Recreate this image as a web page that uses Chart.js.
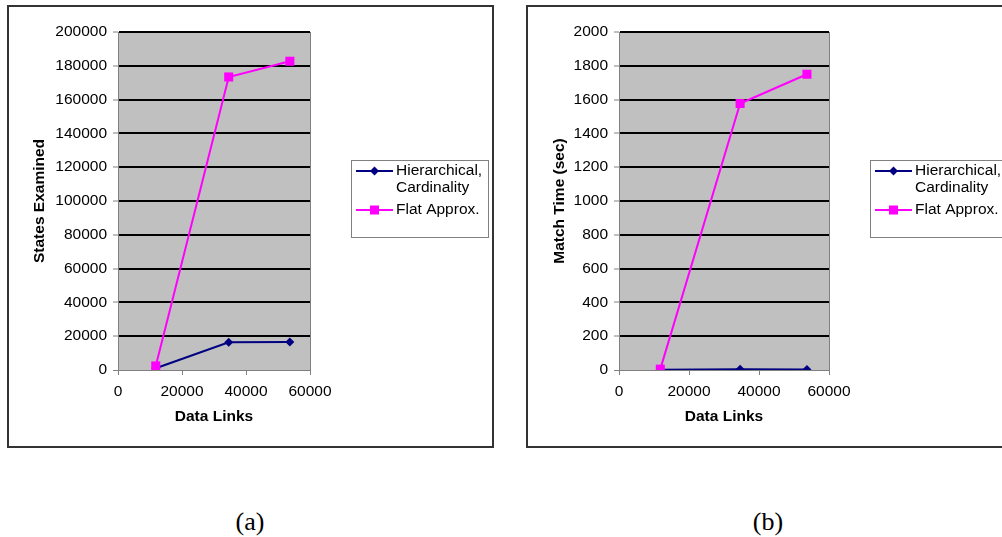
<!DOCTYPE html>
<html>
<head>
<meta charset="utf-8">
<script src="https://cdn.jsdelivr.net/npm/chart.js@4/dist/chart.umd.min.js"></script>
<style>
  html, body { margin:0; padding:0; background:#fff; }
  body { width:1002px; height:537px; overflow:hidden; position:relative; }
  .box { position:absolute; top:5px; width:483px; height:439px; border:2px solid #333; background:#fff; }
  .box canvas { display:block; }
  .cap { position:absolute; top:505px; width:80px; text-align:center; font-family:"Liberation Serif","Times New Roman",serif; font-size:26px; line-height:34px; color:#000; }
</style>
</head>
<body>
<div class="box" style="left:7px;"><canvas id="chartA" width="483" height="439"></canvas></div>
<div class="box" style="left:526px;"><canvas id="chartB" width="483" height="439"></canvas></div>
<div class="cap" style="left:210px;">(a)</div>
<div class="cap" style="left:728px;">(b)</div>
<script>
// ---- data ----
const dataLinks = [11800, 34600, 53700];
const statesHier = [1000, 16400, 16500];
const statesFlat = [2400, 173400, 182700];
const timeHier = [2, 5, 3];
const timeFlat = [5, 1577, 1750];
const seriesNames = [["Hierarchical,", "Cardinality"], ["Flat Approx."]];
const seriesColors = ["#000080", "#FF00FF"];
const xTicks = { min: 0, max: 60000, step: 20000 };
const statesTicks = { min: 0, max: 200000, step: 20000 };
const timeTicks = { min: 0, max: 2000, step: 200 };

const FONT = '"Liberation Sans", Arial, sans-serif';
const FS = 15.5;

function diamond(ctx, x, y, r) {
  ctx.beginPath();
  ctx.moveTo(x, y - r); ctx.lineTo(x + r, y); ctx.lineTo(x, y + r); ctx.lineTo(x - r, y);
  ctx.closePath(); ctx.fill();
}

const areaPlugin = {
  id: 'area',
  beforeDraw(chart) {
    const { ctx, chartArea: a } = chart;
    ctx.save();
    ctx.fillStyle = '#C0C0C0';
    ctx.fillRect(a.left, a.top, a.right - a.left, a.bottom - a.top);
    ctx.strokeStyle = '#808080';
    ctx.lineWidth = 1;
    ctx.beginPath();
    ctx.moveTo(a.right + 0.5, a.top); ctx.lineTo(a.right + 0.5, a.bottom);
    ctx.stroke();
    ctx.restore();
  },
  afterDraw(chart) {
    const { ctx } = chart;
    const bx = 342.5, by = 153.5, bw = 137, bh = 77;
    ctx.save();
    ctx.fillStyle = '#fff';
    ctx.fillRect(bx, by, bw, bh);
    ctx.strokeStyle = '#808080';
    ctx.lineWidth = 1;
    ctx.strokeRect(bx, by, bw, bh);
    const rows = [164, 203];
    const lineRows = [[164, 181], [203]];
    ctx.font = FS + 'px ' + FONT;
    ctx.textBaseline = 'middle';
    ctx.textAlign = 'left';
    for (let i = 0; i < 2; i++) {
      const y = rows[i];
      ctx.strokeStyle = seriesColors[i];
      ctx.lineWidth = 2;
      ctx.beginPath(); ctx.moveTo(347, y); ctx.lineTo(384, y); ctx.stroke();
      ctx.fillStyle = seriesColors[i];
      if (i === 0) diamond(ctx, 365.5, y, 4.5);
      else ctx.fillRect(361, y - 4.5, 9, 9);
      ctx.fillStyle = '#000';
      seriesNames[i].forEach((t, j) => ctx.fillText(t, 387, lineRows[i][j]));
    }
    ctx.restore();
  }
};

function makeChart(id, hier, flat, yT, yTitle, yWidth, titlePad) {
  return new Chart(document.getElementById(id), {
    type: 'line',
    data: {
      datasets: [
        { label: seriesNames[0].join(' '), data: dataLinks.map((x, i) => ({ x, y: hier[i] })),
          borderColor: seriesColors[0], backgroundColor: seriesColors[0], borderWidth: 2,
          pointStyle: 'rectRot', pointRadius: 4.5, pointBorderWidth: 0, order: 2, tension: 0 },
        { label: seriesNames[1].join(' '), data: dataLinks.map((x, i) => ({ x, y: flat[i] })),
          borderColor: seriesColors[1], backgroundColor: seriesColors[1], borderWidth: 2,
          pointStyle: 'rect', pointRadius: 6.4, pointBorderWidth: 0, order: 1, tension: 0 }
      ]
    },
    options: {
      responsive: false,
      animation: false,
      events: [],
      layout: { padding: { top: 25, right: 182, left: 0, bottom: 0 } },
      plugins: { legend: { display: false }, tooltip: { enabled: false } },
      scales: {
        x: {
          type: 'linear', min: xTicks.min, max: xTicks.max,
          ticks: { stepSize: xTicks.step, color: '#000', font: { family: FONT, size: FS }, padding: 7, maxRotation: 0, callback: v => String(v) },
          grid: { drawOnChartArea: false, drawTicks: true, tickLength: 5, tickColor: '#808080', tickWidth: 1 },
          border: { display: true, color: '#808080', width: 1 },
          title: { display: true, text: 'Data Links', color: '#000', font: { family: FONT, size: FS, weight: 'bold' }, padding: { top: 0, bottom: 20 } },
          afterFit(s) { s.height = 76; }
        },
        y: {
          type: 'linear', min: yT.min, max: yT.max,
          ticks: { stepSize: yT.step, color: '#000', font: { family: FONT, size: FS }, padding: 6, callback: v => String(v) },
          grid: {
            color: c => (c.tick && c.tick.value === 0) ? '#808080' : '#000',
            lineWidth: c => (c.tick && c.tick.value === 0) ? 1 : 2,
            tickLength: 5, tickColor: '#808080', tickWidth: 1
          },
          border: { display: true, color: '#808080', width: 1 },
          title: { display: true, text: yTitle, color: '#000', font: { family: FONT, size: FS, weight: 'bold' }, padding: { top: titlePad, bottom: 0 } },
          afterFit(s) { s.width = yWidth; }
        }
      }
    },
    plugins: [areaPlugin]
  });
}

makeChart('chartA', statesHier, statesFlat, statesTicks, 'States Examined', 109, 21);
makeChart('chartB', timeHier, timeFlat, timeTicks, 'Match Time (sec)', 91, 22);
</script>
</body>
</html>
